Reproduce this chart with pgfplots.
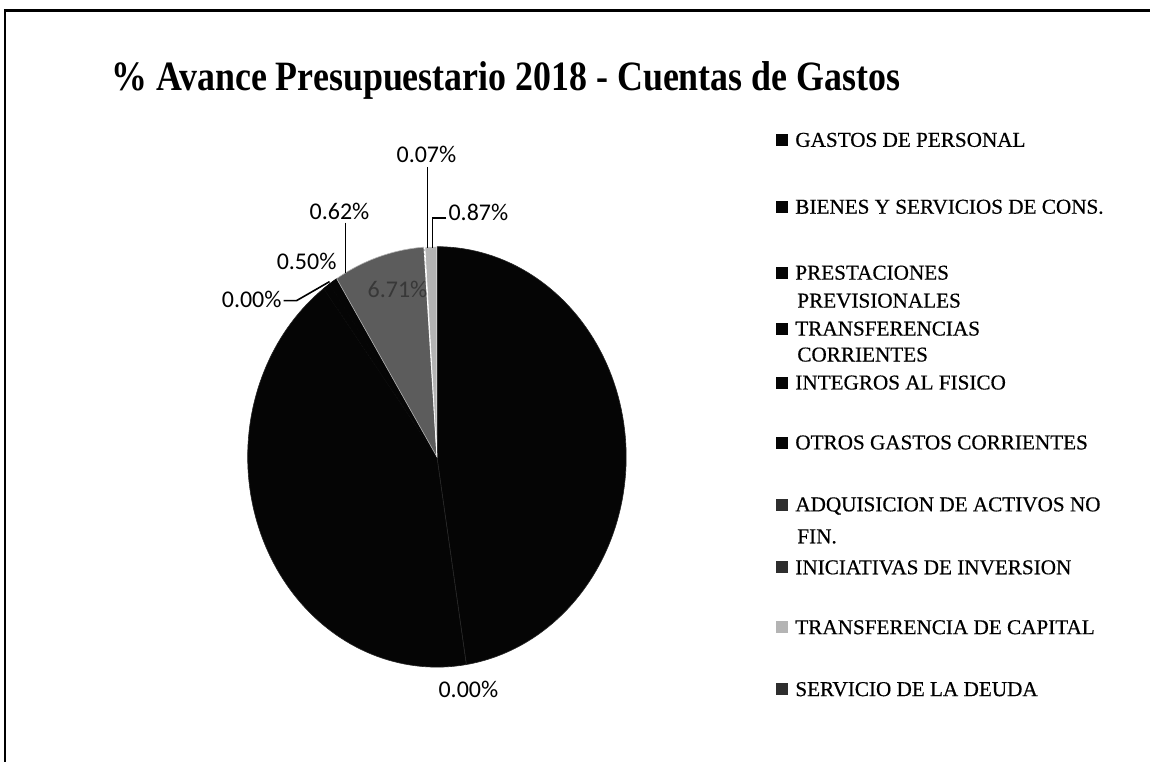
\documentclass[border=0pt]{standalone}
\usepackage{pgfplots}
\pgfplotsset{compat=1.18}
\usepackage{pgfplotstable}
\usepackage{fontspec}
\setmainfont{Liberation Serif}
\newfontfamily\calibri{Carlito}
\newfontfamily\leyenda[FakeBold=0.5]{Liberation Serif}

\definecolor{negro}{HTML}{050505}
\definecolor{grismedio}{HTML}{5C5C5C}
\definecolor{grisclaro}{HTML}{B4B4B4}
\definecolor{grisosc}{HTML}{2E2E2E}
\definecolor{bordeneg}{HTML}{262626}

\newcommand{\cuad}[1]{\textcolor{#1}{\rule[0.4pt]{6pt}{6pt}}\hspace{3.5pt}}

% % de avance por cuenta, en orden horario desde las 12
\pgfplotstableread[col sep=comma]{
cuenta,valor,color,borde
GASTOS DE PERSONAL,40.90,negro,bordeneg
BIENES Y SERVICIOS DE CONS.,0.00,negro,bordeneg
PRESTACIONES PREVISIONALES,36.40,negro,bordeneg
TRANSFERENCIAS CORRIENTES,0.00,negro,negro
INTEGROS AL FISICO,0.50,negro,negro
OTROS GASTOS CORRIENTES,0.62,negro,negro
ADQUISICION DE ACTIVOS NO FIN.,6.71,grismedio,grisclaro
INICIATIVAS DE INVERSION,0.07,grisosc,white
TRANSFERENCIA DE CAPITAL,0.87,grisclaro,white
SERVICIO DE LA DEUDA,0.00,grisosc,white
}\datos

\pgfplotstablegetrowsof{\datos}
\pgfmathtruncatemacro\nfilas{\pgfplotsretval-1}
\gdef\total{0}
\foreach \i in {0,...,\nfilas}{
  \pgfplotstablegetelem{\i}{valor}\of\datos
  \pgfmathsetmacro\t{\total+\pgfplotsretval}
  \xdef\total{\t}
}

% centro y radios del pastel (pixeles)
\def\cx{437.5}
\def\cy{457.5}
\def\rx{189.5}
\def\ry{210.5}

\begin{document}
\begin{tikzpicture}
\begin{axis}[
  width=575.5pt, height=381.5pt, scale only axis,
  xmin=0, xmax=1151, ymin=0, ymax=763, y dir=reverse,
  hide axis, clip=false,
]
\fill[white] (axis cs:0,0) rectangle (axis cs:1151,763);

\def\acum{0}
\pgfplotsforeachungrouped \i in {0,...,\nfilas}{
  \pgfplotstablegetelem{\i}{valor}\of\datos \let\v\pgfplotsretval
  \pgfplotstablegetelem{\i}{color}\of\datos \let\c\pgfplotsretval
  \pgfplotstablegetelem{\i}{borde}\of\datos \let\b\pgfplotsretval
  \ifdim\v pt>0pt
    \pgfmathsetmacro\aini{\acum/\total*360}
    \pgfmathsetmacro\afin{(\acum+\v)/\total*360}
    \edef\temp{\noexpand\addplot[fill=\c, draw=\b, line width=0.3pt,
        domain=\aini:\afin, samples=90]
      ({\cx+\rx*sin(x)}, {\cy-\ry*cos(x)}) -- (axis cs:\cx,\cy) -- cycle;}
    \temp
  \fi
  \pgfmathsetmacro\acum{\acum+\v}
}

% marco
\draw[black, line width=1.5pt] (axis cs:4,11) -- (axis cs:1151,11);
\draw[black, line width=1pt] (axis cs:5,11) -- (axis cs:5,763);

% titulo
\node[font=\bfseries, anchor=base west, inner sep=0pt] at (axis cs:111,91)
  {\resizebox{395pt}{14.5pt}{\% Avance Presupuestario 2018 - Cuentas de Gastos}};

% etiquetas de datos
\node[font=\calibri\fontsize{12}{14}\selectfont, inner sep=0pt] at (axis cs:469,690) {0.00\%};
\node[font=\calibri\fontsize{12}{14}\selectfont, inner sep=0pt] at (axis cs:252,300) {0.00\%};
\node[font=\calibri\fontsize{12}{14}\selectfont, inner sep=0pt] at (axis cs:307,262) {0.50\%};
\node[font=\calibri\fontsize{12}{14}\selectfont, inner sep=0pt] at (axis cs:340,212) {0.62\%};
\node[font=\calibri\fontsize{12}{14}\selectfont, inner sep=0pt, text=black!78] at (axis cs:398,290) {6.71\%};
\node[font=\calibri\fontsize{12}{14}\selectfont, inner sep=0pt] at (axis cs:427,155) {0.07\%};
\node[font=\calibri\fontsize{12}{14}\selectfont, inner sep=0pt] at (axis cs:479,213) {0.87\%};
\draw[line width=0.8pt] (axis cs:284,301) -- (axis cs:297,301) -- (axis cs:330,282);
\draw[line width=0.8pt] (axis cs:346,223) -- (axis cs:346,273);
\draw[line width=0.8pt] (axis cs:428,167) -- (axis cs:428,248);
\draw[line width=0.8pt] (axis cs:447,218) -- (axis cs:433,218) -- (axis cs:433,248);

% leyenda
\node[font=\leyenda\fontsize{10.6}{12}\selectfont, inner sep=0pt, anchor=base west] at (axis cs:777,147) {\cuad{negro}GASTOS DE PERSONAL};
\node[font=\leyenda\fontsize{10.6}{12}\selectfont, inner sep=0pt, anchor=base west] at (axis cs:777,214) {\cuad{negro}BIENES Y SERVICIOS DE CONS.};
\node[font=\leyenda\fontsize{10.6}{12}\selectfont, inner sep=0pt, anchor=base west] at (axis cs:777,280) {\cuad{negro}PRESTACIONES};
\node[font=\leyenda\fontsize{10.6}{12}\selectfont, inner sep=0pt, anchor=base west] at (axis cs:798,308) {PREVISIONALES};
\node[font=\leyenda\fontsize{10.6}{12}\selectfont, inner sep=0pt, anchor=base west] at (axis cs:777,336) {\cuad{negro}TRANSFERENCIAS};
\node[font=\leyenda\fontsize{10.6}{12}\selectfont, inner sep=0pt, anchor=base west] at (axis cs:798,362) {CORRIENTES};
\node[font=\leyenda\fontsize{10.6}{12}\selectfont, inner sep=0pt, anchor=base west] at (axis cs:777,390) {\cuad{negro}INTEGROS AL FISICO};
\node[font=\leyenda\fontsize{10.6}{12}\selectfont, inner sep=0pt, anchor=base west] at (axis cs:777,450) {\cuad{negro}OTROS GASTOS CORRIENTES};
\node[font=\leyenda\fontsize{10.6}{12}\selectfont, inner sep=0pt, anchor=base west] at (axis cs:777,512) {\cuad{grisosc}ADQUISICION DE ACTIVOS NO};
\node[font=\leyenda\fontsize{10.6}{12}\selectfont, inner sep=0pt, anchor=base west] at (axis cs:798,544) {FIN.};
\node[font=\leyenda\fontsize{10.6}{12}\selectfont, inner sep=0pt, anchor=base west] at (axis cs:777,575) {\cuad{grisosc}INICIATIVAS DE INVERSION};
\node[font=\leyenda\fontsize{10.6}{12}\selectfont, inner sep=0pt, anchor=base west] at (axis cs:777,635) {\cuad{grisclaro}TRANSFERENCIA DE CAPITAL};
\node[font=\leyenda\fontsize{10.6}{12}\selectfont, inner sep=0pt, anchor=base west] at (axis cs:777,697) {\cuad{grisosc}SERVICIO DE LA DEUDA};
\end{axis}
\end{tikzpicture}
\end{document}
